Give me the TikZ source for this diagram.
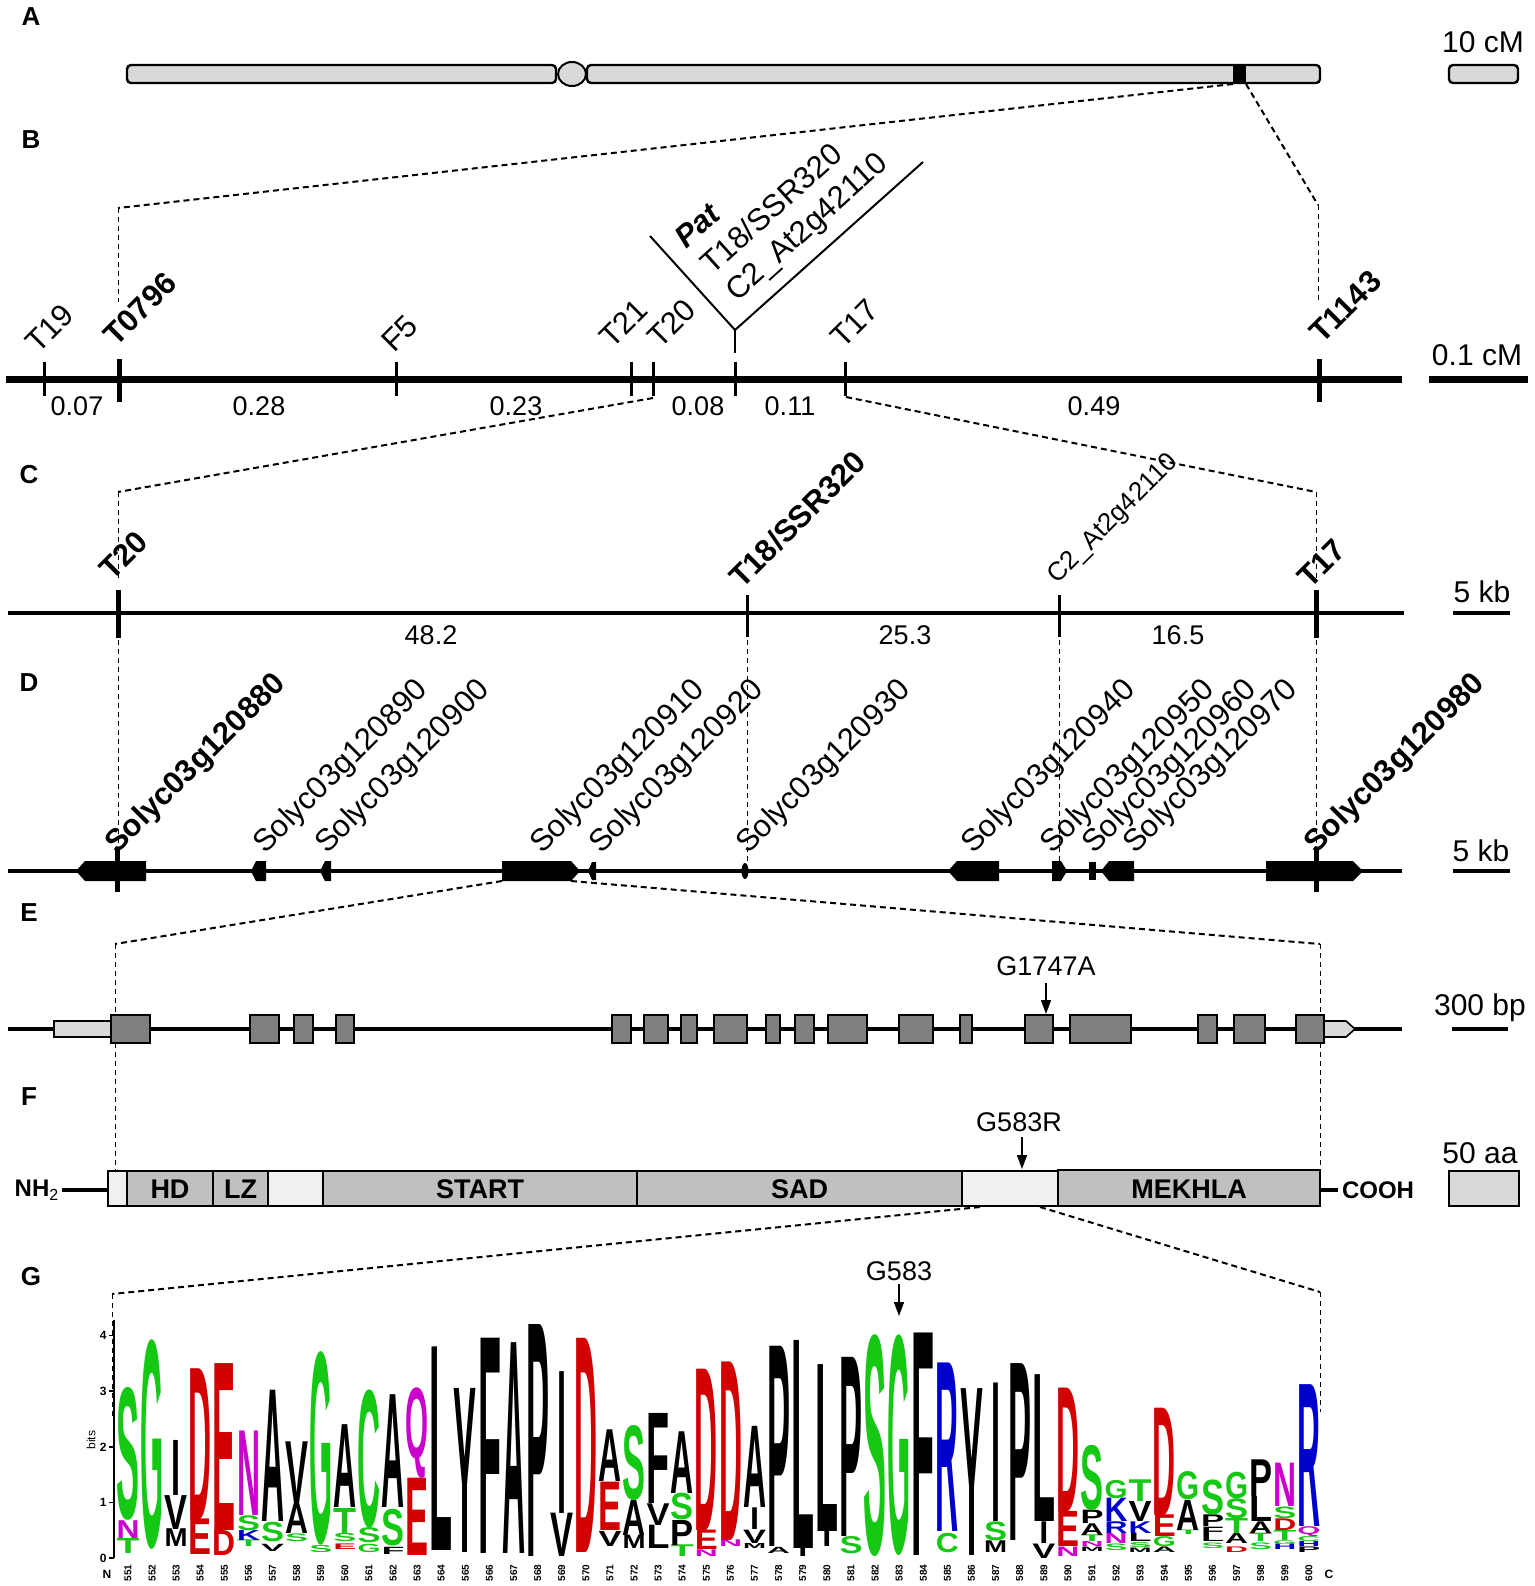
\documentclass[tikz,border=0pt]{standalone}
\usepackage{fontspec}
\setmainfont{Liberation Sans}
\usepackage{graphicx}
\usetikzlibrary{arrows.meta}
\definecolor{chrom}{RGB}{217,217,217}
\definecolor{exon}{RGB}{128,128,128}
\definecolor{domain}{RGB}{192,192,192}
\definecolor{linker}{RGB}{240,240,240}
\definecolor{lgreen}{RGB}{20,200,20}
\definecolor{lred}{RGB}{210,0,0}
\definecolor{lmag}{RGB}{204,0,204}
\definecolor{lblue}{RGB}{0,0,204}
\definecolor{lblack}{RGB}{0,0,0}
\begin{document}
\begin{tikzpicture}[x=0.5pt, y=-0.5pt,
    panel/.style={font=\bfseries\fontsize{13}{15}\selectfont, inner sep=0},
    mk/.style={font=\fontsize{15.5}{18}\selectfont, rotate=45, anchor=base west, inner sep=0},
    mkb/.style={mk, font=\bfseries\fontsize{15.5}{18}\selectfont},
    vlbl/.style={font=\fontsize{15.5}{18}\selectfont, rotate=42, anchor=base west, inner sep=0},
    dist/.style={font=\fontsize{13.5}{16}\selectfont, inner sep=0},
    scalelbl/.style={font=\fontsize{15}{18}\selectfont, inner sep=0},
    note/.style={font=\fontsize{13.5}{16}\selectfont, inner sep=0},
    dom/.style={font=\bfseries\fontsize{13.5}{16}\selectfont, inner sep=0},
    term/.style={font=\bfseries\fontsize{12}{14}\selectfont, inner sep=0},
    thintick/.style={line width=1.5pt},
    thicktick/.style={line width=2.5pt},
    zoomline/.style={line width=1pt, dash pattern=on 3pt off 2pt},
    guide/.style={line width=0.5pt, dash pattern=on 2.5pt off 2pt},
    mut/.style={line width=0.8pt, -{Triangle[length=7pt, width=5pt]}},
    logo/.style={anchor=south, inner sep=0, outer sep=0},
    collbl/.style={font=\bfseries\fontsize{5}{6}\selectfont, rotate=90, inner sep=0},
    axlbl/.style={font=\bfseries\fontsize{6}{7}\selectfont, inner sep=0}]
  \useasboundingbox (0,0) rectangle (1535,1586);
  %
  % A: chromosome
  \node[panel] (pA) at (31,17) {A};
  \draw[line width=1.2pt, fill=chrom, rounded corners=2pt] (127,65) rectangle (556,83);
  \draw[line width=1.2pt, fill=chrom, rounded corners=2pt] (587,65) rectangle (1320,83);
  \draw[line width=1pt, fill=chrom] (572,74) ellipse [x radius=14, y radius=12];
  \fill (1233,65) rectangle (1246,83);                      % region
  \draw[line width=1.2pt, fill=chrom, rounded corners=2pt] (1449,65) rectangle (1518,83);
  \node[scalelbl] (sA) at (1483,42) {10 cM};
  \coordinate (bandL) at (1233,84);
  \coordinate (bandR) at (1246,84);
  %
  % B: genetic map
  \node[panel] (pB) at (31,140) {B};
  \draw[line width=3.5pt] (6,379) -- (1402,379);
  \draw[thintick] (44.6,362) -- (44.6,396);                % T19
  \draw[thicktick] (119,359) -- (119,402);                 % T0796
  \draw[thintick] (396.5,362) -- (396.5,396);              % F5
  \draw[thintick] (631,362) -- (631,396);                  % T21
  \draw[thintick] (653,362) -- (653,396);                  % T20
  \draw[thintick] (735,362) -- (735,396);                  % Pat
  \draw[thintick] (845,362) -- (845,396);                  % T17
  \draw[thicktick] (1319,359) -- (1319,402);               % T1143
  \node[mk] (bT19) at (38,355) {T19};
  \node[mkb] (bT0796) at (116,348) {T0796};
  \node[mk] (bF5) at (394,354) {F5};
  \node[mk] (bT21) at (612,350) {T21};
  \node[mk] (bT20) at (660,350) {T20};
  \node[mk] (bT17) at (843,350) {T17};
  \node[mkb] (bT1143) at (1322,345) {T1143};
  \draw[line width=1pt] (650,236) -- (735,330) -- (923,162);  % V
  \draw[line width=1pt] (735,330) -- (735,353);
  \node[vlbl, font=\bfseries\itshape\fontsize{15.5}{18}\selectfont] (bPat) at (686,250) {Pat};
  \node[vlbl] (bT18) at (712,276) {T18/SSR320};
  \node[vlbl] (bC2) at (737,303) {C2\_At2g42110};
  \node[dist] (d1) at (77,406) {0.07};
  \node[dist] (d2) at (259,406) {0.28};
  \node[dist] (d3) at (516,406) {0.23};
  \node[dist] (d4) at (698,406) {0.08};
  \node[dist] (d5) at (790,406) {0.11};
  \node[dist] (d6) at (1094,406) {0.49};
  \draw[line width=3.5pt] (1429,379) -- (1528,379);
  \node[scalelbl] (sB) at (1477,355) {0.1 cM};
  \coordinate (cB1) at (118,208);
  \coordinate (cB2) at (1318,205);
  \draw[zoomline] (bandL) -- (cB1);
  \draw[zoomline] (bandR) -- (cB2);
  \draw[guide] (cB1) -- (118,302);
  \draw[guide] (cB2) -- (1318,303);
  \coordinate (tB20) at (653,398);
  \coordinate (tB17) at (846,397);
  %
  % C: physical map
  \node[panel] (pC) at (29,475) {C};
  \draw[line width=2pt] (8,613) -- (1404,613);
  \draw[thicktick] (118,590) -- (118,638);
  \draw[thintick] (747,595) -- (747,637);
  \draw[thintick] (1059,595) -- (1059,637);
  \draw[thicktick] (1316,590) -- (1316,638);
  \node[mkb] (cT20) at (112,582) {T20};
  \node[mkb] (cT18) at (742,590) {T18/SSR320};
  \node[mk, font=\fontsize{13}{15}\selectfont] (cC2) at (1057,585) {C2\_At2g42110};
  \node[mkb] (cT17) at (1310,590) {T17};
  \node[dist] (e1) at (431,635) {48.2};
  \node[dist] (e2) at (905,635) {25.3};
  \node[dist] (e3) at (1178,635) {16.5};
  \draw[line width=2pt] (1453,613) -- (1510,613);
  \node[scalelbl] (sC) at (1482,592) {5 kb};
  \coordinate (cC1) at (118,492);
  \coordinate (cC2) at (1316,492);
  \draw[zoomline] (tB20) -- (cC1);
  \draw[zoomline] (tB17) -- (cC2);
  \draw[guide] (cC1) -- (118,582);
  \draw[guide] (cC2) -- (1316,582);
  %
  % D: genes
  \node[panel] (pD) at (29,683) {D};
  \draw[guide] (118,640) -- (118,847);
  \draw[guide] (747,640) -- (747,862);
  \draw[guide] (1059,640) -- (1059,862);
  \draw[guide] (1316,640) -- (1316,847);
  \draw[line width=2pt] (8,871) -- (1402,871);
  \fill (146,861) -- (85,861) -- (76,871) -- (85,881) -- (146,881) -- cycle;     % 120880
  \fill (266,861) -- (256,861) -- (251,871) -- (256,881) -- (266,881) -- cycle;  % 120890
  \fill (331,861) -- (325,861) -- (320,871) -- (325,881) -- (331,881) -- cycle;  % 120900
  \fill (502,861) -- (571,861) -- (580,871) -- (571,881) -- (502,881) -- cycle;  % 120910
  \fill (596,862) -- (592,862) -- (588,871) -- (592,880) -- (596,880) -- cycle;  % 120920
  \fill (745,871) ellipse [x radius=3.5, y radius=8];                            % 120930
  \fill (999,861) -- (957,861) -- (948,871) -- (957,881) -- (999,881) -- cycle;  % 120940
  \fill (1052,861) -- (1061,861) -- (1067,871) -- (1061,881) -- (1052,881) -- cycle; % 120950
  \fill (1089,862) rectangle (1096,880);                                         % 120960
  \fill (1134,861) -- (1109,861) -- (1101,871) -- (1109,881) -- (1134,881) -- cycle; % 120970
  \fill (1266,861) -- (1353,861) -- (1363,871) -- (1353,881) -- (1266,881) -- cycle; % 120980
  \draw[thicktick] (117,847) -- (117,892);
  \draw[thicktick] (1316,847) -- (1316,892);
  \node[mkb] (g880) at (117,855) {Solyc03g120880};
  \node[mk] (g890) at (265,855) {Solyc03g120890};
  \node[mk] (g900) at (327,855) {Solyc03g120900};
  \node[mk] (g910) at (542,855) {Solyc03g120910};
  \node[mk] (g920) at (601,855) {Solyc03g120920};
  \node[mk] (g930) at (748,855) {Solyc03g120930};
  \node[mk] (g940) at (973,855) {Solyc03g120940};
  \node[mk] (g950) at (1052,855) {Solyc03g120950};
  \node[mk] (g960) at (1094,855) {Solyc03g120960};
  \node[mk] (g970) at (1135,855) {Solyc03g120970};
  \node[mkb] (g980) at (1316,855) {Solyc03g120980};
  \draw[line width=2pt] (1453,871) -- (1510,871);
  \node[scalelbl] (sD) at (1481,851) {5 kb};
  \coordinate (tD1) at (502,881);
  \coordinate (tD2) at (571,881);
  %
  % E: gene structure
  \node[panel] (pE) at (29,913) {E};
  \coordinate (cE1) at (115,944);
  \coordinate (cE2) at (1320,944);
  \draw[zoomline] (tD1) -- (cE1);
  \draw[zoomline] (tD2) -- (cE2);
  \draw[guide] (cE1) -- (115,1171);
  \draw[guide] (cE2) -- (1320,1171);
  \draw[line width=2pt] (8,1029) -- (1402,1029);
  \draw[line width=0.8pt, fill=chrom] (54,1021) rectangle (111,1037);            % 5' UTR
  \draw[line width=0.8pt, fill=chrom] (1324,1021) -- (1346,1021) -- (1355,1029) -- (1346,1037) -- (1324,1037) -- cycle; % 3' UTR
  \foreach \a/\b in {111/150, 250/279, 294/313, 336/354, 612/631, 644/668, 681/697,
      714/747, 766/780, 795/814, 828/867, 899/933, 960/972, 1025/1053, 1070/1131,
      1198/1217, 1234/1265, 1296/1324}
    \draw[line width=0.8pt, fill=exon] (\a,1015) rectangle (\b,1043);          % exons
  \node[note] (mE) at (1046,966) {G1747A};
  \draw[mut] (1046,983) coordinate (mE0) -- (1046,1014) coordinate (mE1);
  \draw[line width=2pt] (1452,1029) -- (1508,1029);
  \node[scalelbl] (sE) at (1480,1008) {300 bp};
  %
  % F: protein
  \node[panel] (pF) at (29,1097) {F};
  \node[term] (nh) at (37,1190) {NH\textsubscript{\mdseries 2}};
  \draw[line width=2pt] (62,1190) -- (108,1190);
  \draw[line width=2pt] (1320,1190) -- (1338,1190);
  \node[term] (cooh) at (1378,1190) {COOH};
  \draw[line width=1pt, fill=linker] (108,1171) rectangle (1320,1206);
  \draw[line width=1.2pt, fill=domain] (127,1171) rectangle (213,1206);
  \draw[line width=1.2pt, fill=domain] (213,1171) rectangle (268,1206);
  \draw[line width=1.2pt, fill=domain] (323,1171) rectangle (637,1206);
  \draw[line width=1.2pt, fill=domain] (637,1171) rectangle (962,1206);
  \draw[line width=1.2pt, fill=domain] (1058,1170) rectangle (1320,1206);
  \node[dom] (hd) at (170,1189) {HD};
  \node[dom] (lz) at (240.5,1189) {LZ};
  \node[dom] (start) at (480,1189) {START};
  \node[dom] (sad) at (799.5,1189) {SAD};
  \node[dom] (mekhla) at (1189,1189) {MEKHLA};
  \node[note] (mF) at (1019,1122) {G583R};
  \draw[mut] (1022,1137) coordinate (mF0) -- (1022,1169) coordinate (mF1);
  \draw[line width=1pt, fill=chrom] (1449,1171) rectangle (1519,1206);
  \node[scalelbl] (sF) at (1480,1153) {50 aa};
  \coordinate (tF1) at (980,1207);
  \coordinate (tF2) at (1040,1207);
  %
  % G: sequence logo
  \node[panel] (pG) at (31,1277) {G};
  \coordinate (cG1) at (112,1294);
  \coordinate (cG2) at (1320,1292);
  \draw[zoomline] (tF1) -- (cG1);
  \draw[zoomline] (tF2) -- (cG2);
  \draw[guide] (cG1) -- (112,1416);
  \draw[guide] (cG2) -- (1320,1412);
  \node[note] (mG) at (899,1271) {G583};
  \draw[mut] (899,1284) coordinate (mG0) -- (899,1316) coordinate (mG1);
  \draw[line width=0.8pt] (114,1320) -- (114,1558);                             % axis
  \foreach \k in {0,...,4}{
    \draw[line width=0.8pt] (109,{1558-55.6*\k}) -- (114,{1558-55.6*\k});
    \node[axlbl, anchor=east] (ax\k) at (107,{1558-55.6*\k}) {\k};
  }
  \node[axlbl, font=\fontsize{6}{7}\selectfont, rotate=90] (bits) at (91,1440) {bits};
  \node[axlbl] (nterm) at (107,1574) {N};
  \node[axlbl] (cterm) at (1329,1574) {C};
  \foreach \pos [count=\n from 0] in {551,...,600}
    \node[collbl] (col\pos) at ({128+24.1*\n},1573) {\pos};
  % letters: column/bottom/top/colour/letter
  \foreach \col/\lo/\hi/\clr/\ch [count=\n] in {
      551/0.09/0.36/lgreen/T, 551/0.36/0.68/lmag/N, 551/0.68/3.07/lgreen/S,
      552/0.15/3.92/lgreen/G,
      553/0.2/0.52/lblack/M, 553/0.52/1.13/lblack/V,
      554/0.06/0.70/lred/E, 554/0.70/3.41/lred/D,
      555/0.05/0.50/lred/D, 555/0.50/3.50/lred/E,
      556/0.2/0.32/lgreen/T, 556/0.32/0.5/lblue/K, 556/0.5/0.77/lgreen/S, 556/0.77/2.29/lmag/N,
      557/0.12/0.25/lblack/V, 557/0.29/0.64/lgreen/S, 557/0.66/3.02/lblack/A,
      558/0.3/0.44/lgreen/S, 558/0.44/0.98/lblack/A, 558/0.98/2.09/lblack/V,
      559/0.1/0.23/lgreen/S, 559/0.23/3.71/lgreen/G,
      560/0.15/0.25/lred/E, 560/0.3/0.45/lgreen/S, 560/0.45/0.9/lgreen/T, 560/0.9/2.39/lblack/A,
      561/0.1/0.25/lgreen/G, 561/0.27/0.54/lgreen/S, 561/0.54/3.03/lgreen/C,
      562/0.07/0.2/lblack/F, 562/0.22/0.88/lgreen/S, 562/0.9/2.93/lblack/A,
      563/0.05/1.44/lred/E, 563/1.44/3.07/lmag/Q,
      564/0.14/3.8/lblack/L,
      565/0.1/3.05/lblack/Y,
      566/0.08/3.95/lblack/F,
      567/0.08/3.87/lblack/A,
      568/0.02/4.19/lblack/P,
      569/0.02/0.8/lblack/V,
      570/0.1/3.95/lred/D,
      571/0.2/0.47/lblack/V, 571/0.5/1.37/lred/E, 571/1.37/2.3/lblack/A,
      572/0.17/0.41/lblack/M, 572/0.41/1.04/lblack/A, 572/1.04/2.39/lgreen/S,
      573/0.17/0.59/lblack/L, 573/0.59/0.98/lblack/V, 573/0.98/2.6/lblack/F,
      574/0.02/0.23/lgreen/T, 574/0.23/0.68/lblack/P, 574/0.68/1.16/lgreen/S, 574/1.16/2.27/lblack/A,
      575/0.03/0.15/lmag/N, 575/0.15/0.5/lred/E, 575/0.5/3.4/lred/D,
      576/0.2/0.32/lmag/N, 576/0.32/3.53/lred/D,
      577/0.18/0.27/lblack/M, 577/0.27/0.51/lblack/V, 577/0.9/2.36/lblack/A,
      578/0.09/0.2/lblack/A, 578/0.2/3.8/lblack/P,
      579/0.18/3.92/lblack/L,
      580/0.47/3.47/lblack/L,
      581/0.07/0.38/lgreen/S, 581/0.38/3.6/lblack/P,
      582/0.02/4.01/lgreen/S,
      583/0.04/4.01/lgreen/G,
      584/0.05/4.05/lblack/F,
      585/0.1/0.45/lgreen/C, 585/0.47/3.5/lblue/R,
      586/0.05/3.05/lblack/Y,
      587/0.1/0.31/lblack/M, 587/0.31/0.65/lgreen/S,
      588/0.32/3.5/lblack/P,
      589/0.0/0.26/lblack/V, 589/0.65/3.29/lblack/L,
      590/0.03/0.2/lmag/N, 590/0.2/0.83/lred/E, 590/0.83/3.05/lred/D,
      591/0.12/0.2/lblack/M, 591/0.2/0.29/lmag/N, 591/0.29/0.41/lgreen/T, 591/0.41/0.62/lblack/A,
      591/0.62/0.86/lblack/P, 591/0.86/2.03/lgreen/S,
      592/0.14/0.26/lgreen/S, 592/0.26/0.44/lmag/N, 592/0.44/0.65/lblue/R, 592/0.65/1.07/lblue/K,
      592/1.07/1.4/lgreen/G,
      593/0.1/0.18/lblack/M, 593/0.18/0.27/lgreen/S, 593/0.29/0.44/lblack/L, 593/0.44/0.65/lblue/K,
      593/0.65/1.01/lblack/V, 593/1.01/1.4/lgreen/T,
      594/0.1/0.2/lblack/A, 594/0.2/0.38/lgreen/G, 594/0.38/0.77/lred/E, 594/0.77/2.7/lred/D,
      595/0.42/0.5/lgreen/T, 595/0.5/1.04/lblack/A, 595/1.04/1.55/lgreen/G,
      596/0.17/0.27/lgreen/S, 596/0.29/0.41/lblack/L, 596/0.41/0.56/lblack/F, 596/0.56/0.77/lblack/P,
      596/0.77/1.4/lgreen/S,
      597/0.1/0.2/lred/D, 597/0.26/0.44/lblack/A, 597/0.44/0.71/lgreen/T, 597/0.71/1.07/lgreen/S,
      597/1.07/1.55/lgreen/G,
      598/0.15/0.27/lgreen/S, 598/0.29/0.44/lgreen/T, 598/0.44/0.65/lblack/A, 598/0.65/1.1/lblack/L,
      598/1.1/1.76/lblack/P,
      599/0.15/0.25/lblue/H, 599/0.25/0.32/lgreen/G, 599/0.32/0.5/lgreen/T, 599/0.5/0.71/lred/D,
      599/0.71/0.92/lgreen/S, 599/0.92/1.7/lmag/N,
      600/0.1/0.2/lblack/P, 600/0.2/0.29/lblue/H, 600/0.29/0.38/lgreen/C, 600/0.38/0.56/lmag/Q,
      600/0.56/3.11/lblue/R}{
    \pgfmathsetmacro{\lgh}{27.8*(\hi-\lo)}
    \node[logo, text=\clr] (lg\n) at ({128+24.1*(\col-551)},{1558-55.6*\lo})
      {\resizebox*{11.5pt}{\lgh pt}{\bfseries\ch}};
  }
  % thin I letters
  \foreach \col/\lo/\hi [count=\n] in {553/1.13/2.12, 569/0.8/3.35, 577/0.51/0.9, 579/0.03/0.18,
      580/0.2/0.47, 587/0.65/3.14, 589/0.26/0.65}{
    \pgfmathsetmacro{\lgh}{27.8*(\hi-\lo)}
    \node[logo] (lgi\n) at ({128+24.1*(\col-551)},{1558-55.6*\lo})
      {\resizebox*{4.5pt}{\lgh pt}{\bfseries I}};
  }
\end{tikzpicture}
\end{document}
